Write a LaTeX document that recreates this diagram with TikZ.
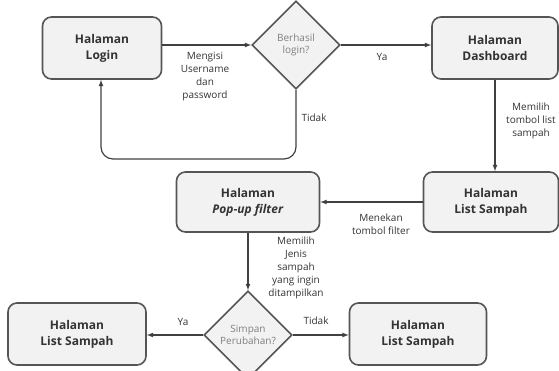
\documentclass[tikz,border=0pt]{standalone}
\usepackage{fontspec}
\setmainfont{Open Sans}
\usetikzlibrary{shapes.geometric}

\definecolor{isiabu}{HTML}{F2F2F2}
\definecolor{garis}{HTML}{555555}
\definecolor{teks}{HTML}{333333}

\tikzset{
  halaman/.style={draw=garis, line width=1.6pt, fill=isiabu, rounded corners=9pt,
    align=center, text=teks, font=\fontsize{12}{16}\selectfont\bfseries},
  keputusan/.style={draw=garis, line width=1.6pt, fill=isiabu, diamond, aspect=1,
    minimum width=88pt, minimum height=88pt, inner sep=0pt, align=center,
    text=black!50, font=\fontsize{10}{12.5}\selectfont},
  ket/.style={align=center, text=teks, font=\fontsize{10}{13}\selectfont},
  alur/.style={->, draw=black!75, line width=1.2pt}
}

\begin{document}
\begin{tikzpicture}[x=1pt, y=-1pt, >=latex]

  \useasboundingbox (0,0) rectangle (559,371);

  % Baris atas
  \node[halaman, minimum width=119pt, minimum height=62pt] (login) at (102,48) {Halaman\\Login};
  \node[keputusan] (cek) at (296,45) {Berhasil\\login?};
  \node[halaman, minimum width=126pt, minimum height=62pt] (dash) at (495,48) {Halaman\\Dashboard};

  % Baris tengah
  \node[halaman, minimum width=135pt, minimum height=60pt] (list) at (491,202) {Halaman\\List Sampah};
  \node[halaman, minimum width=143pt, minimum height=60pt] (popup) at (248,202) {Halaman\\\textit{Pop-up filter}};

  % Baris bawah
  \node[keputusan] (simpan) at (248,335) {Simpan\\Perubahan?};
  \node[halaman, minimum width=138pt, minimum height=62pt] (listya) at (77,334) {Halaman\\List Sampah};
  \node[halaman, minimum width=137pt, minimum height=62pt] (listtidak) at (418,334) {Halaman\\List Sampah};

  % Titik bantu untuk jalur kembali
  \coordinate (balik) at (101,159);

  % Panah
  \draw[alur] (login.east |- cek.west) -- (cek.west);
  \draw[alur] (cek.east) -- (dash.west |- cek.east);
  \draw[alur, rounded corners=12pt] (cek.south) |- (balik) -- (login.south -| balik);
  \draw[alur] (dash.south) -- (list.north -| dash.south);
  \draw[alur] (list.west) -- (popup.east);
  \draw[alur] (popup.south) -- (simpan.north);
  \draw[alur] (simpan.west) -- (listya.east |- simpan.west);
  \draw[alur] (simpan.east) -- (listtidak.west |- simpan.east);

  % Keterangan
  \node[ket] (kisi) at (205,77) {Mengisi\\Username\\dan\\password};
  \node[ket] (kya) at (382,57) {Ya};
  \node[ket] (ktidak) at (314,118) {Tidak};
  \node[ket] (kpilih) at (531,121) {Memilih\\tombol list\\sampah};
  \node[ket] (ktekan) at (381,224) {Menekan\\tombol filter};
  \node[ket] (kjenis) at (296,268) {Memilih\\Jenis\\sampah\\yang ingin\\ditampilkan};
  \node[ket] (kya2) at (183,322) {Ya};
  \node[ket] (ktidak2) at (316,321) {Tidak};

\end{tikzpicture}
\end{document}
